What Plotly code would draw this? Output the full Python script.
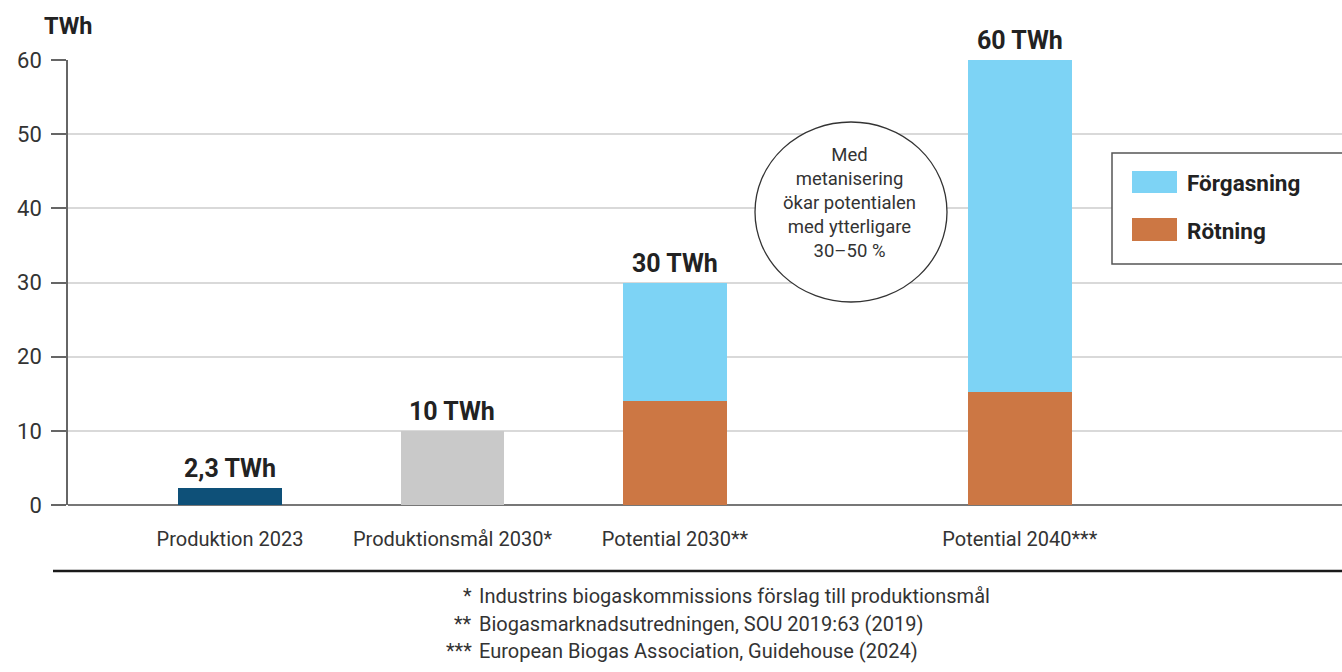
import plotly.graph_objects as go

# ---- data ----
categories = ["Produktion 2023", "Produktionsmål 2030*", "Potential 2030**", "Potential 2040***"]
produktion = [2.3, None, None, None]
produktionsmal = [None, 10, None, None]
rotning = [None, None, 14, 15.2]
forgasning = [None, None, 16, 44.8]
total_labels = ["2,3 TWh", "10 TWh", "30 TWh", "60 TWh"]
y_ticks = [0, 10, 20, 30, 40, 50, 60]
footnote_marks = ["*", "**", "***"]
footnote_texts = [
    "Industrins biogaskommissions förslag till produktionsmål",
    "Biogasmarknadsutredningen, SOU 2019:63 (2019)",
    "European Biogas Association, Guidehouse (2024)",
]
circle_text = "Med<br>metanisering<br>ökar potentialen<br>med ytterligare<br>30–50 %"
legend_names = ["Förgasning", "Rötning"]

# ---- layout constants ----
W, H = 1342, 672
L, R, T, B = 68, 0, 60, 167
slots = [1, 2, 3, 4.55]
bar_w = 0.467
x_range = [0.272, 5.998]

C_DARK = "#0e5078"
C_GRAY = "#c9c9c9"
C_LBLUE = "#7dd3f5"
C_ORANGE = "#cc7744"
TXT = "#2b2b2b"
FONT = "Roboto"

def px(x):
    return (x - L) / (W - L - R)

def py(y):
    return (H - B - y) / (H - B - T)

totals = []
for i in range(len(categories)):
    vals = [s[i] for s in (produktion, produktionsmal, rotning, forgasning) if s[i] is not None]
    totals.append(sum(vals))

fig = go.Figure()
fig.add_bar(x=slots, y=produktion, width=bar_w, marker=dict(color=C_DARK, line_width=0), showlegend=False)
fig.add_bar(x=slots, y=produktionsmal, width=bar_w, marker=dict(color=C_GRAY, line_width=0), showlegend=False)
fig.add_bar(x=slots, y=rotning, width=bar_w, marker=dict(color=C_ORANGE, line_width=0), name="Rötning", showlegend=False)
fig.add_bar(x=slots, y=forgasning, width=bar_w, marker=dict(color=C_LBLUE, line_width=0), name="Förgasning", showlegend=False)

annotations = []
for s, t, lab in zip(slots, totals, total_labels):
    annotations.append(dict(x=s, y=t, xref="x", yref="y", text="<b>" + lab + "</b>",
                            showarrow=False, yanchor="bottom", yshift=3,
                            font=dict(family=FONT, size=25, color="#222")))

# y-axis title
annotations.append(dict(x=px(68), y=py(26), xref="paper", yref="paper", text="<b>TWh</b>",
                        showarrow=False, xanchor="center", yanchor="middle",
                        font=dict(family=FONT, size=23.5, color="#222")))

# circle text
annotations.append(dict(x=px(849), y=py(203), xref="paper", yref="paper", text=circle_text,
                        showarrow=False, xanchor="center", yanchor="middle", align="center",
                        font=dict(family=FONT, size=18.5, color="#333")))

# legend texts
for name, yc in zip(legend_names, [183, 231]):
    annotations.append(dict(x=px(1185), y=py(yc), xref="paper", yref="paper", text="<b>" + name + "</b>",
                            showarrow=False, xanchor="left", yanchor="middle",
                            font=dict(family=FONT, size=22.5, color="#222")))

# footnotes
for m, t, yc in zip(footnote_marks, footnote_texts, [596, 624, 651]):
    annotations.append(dict(x=px(474), y=py(yc), xref="paper", yref="paper", text=m,
                            showarrow=False, xanchor="right", yanchor="middle",
                            font=dict(family=FONT, size=20, color="#333")))
    annotations.append(dict(x=px(477), y=py(yc), xref="paper", yref="paper", text=t,
                            showarrow=False, xanchor="left", yanchor="middle",
                            font=dict(family=FONT, size=20, color="#333")))

shapes = [
    # annotation circle
    dict(type="circle", xref="paper", yref="paper", x0=px(755), x1=px(947), y0=py(302), y1=py(122),
         line=dict(color="#333", width=1.3), fillcolor="white", layer="above"),
    # legend box
    dict(type="rect", xref="paper", yref="paper", x0=px(1112), x1=px(1350), y0=py(264), y1=py(153),
         line=dict(color="#555", width=1.5), fillcolor="white", layer="above"),
    dict(type="rect", xref="paper", yref="paper", x0=px(1132), x1=px(1177), y0=py(193), y1=py(171),
         line_width=0, fillcolor=C_LBLUE, layer="above"),
    dict(type="rect", xref="paper", yref="paper", x0=px(1132), x1=px(1177), y0=py(241), y1=py(218),
         line_width=0, fillcolor=C_ORANGE, layer="above"),
    # bottom separator
    dict(type="line", xref="paper", yref="paper", x0=px(53), x1=px(1345), y0=py(571), y1=py(571),
         line=dict(color="#1a1a1a", width=2.5)),
]

fig.update_layout(
    width=W, height=H,
    margin=dict(l=L, r=R, t=T, b=B, pad=0),
    barmode="stack",
    bargap=0,
    plot_bgcolor="white", paper_bgcolor="white",
    font=dict(family=FONT, color=TXT),
    showlegend=False,
    annotations=annotations,
    shapes=shapes,
    xaxis=dict(range=x_range, tickmode="array", tickvals=slots, ticktext=categories,
               ticks="", showgrid=False, zeroline=False, showline=False,
               tickfont=dict(family=FONT, size=20, color="#333"), ticklabelstandoff=20,
               fixedrange=True),
    yaxis=dict(range=[0, 60], tickmode="array", tickvals=y_ticks,
               ticks="outside", ticklen=15, tickcolor="#666", tickwidth=1.5,
               showline=True, linecolor="#666", linewidth=1.5,
               showgrid=True, gridcolor="#d9d9d9", gridwidth=1.5,
               zeroline=True, zerolinecolor="#777", zerolinewidth=2,
               tickfont=dict(family=FONT, size=22, color="#333"), ticklabelstandoff=5,
               fixedrange=True),
)

fig.write_html("out.html", config={"displayModeBar": False},
               post_script="document.body.style.margin='0';document.body.style.overflow='hidden';")
